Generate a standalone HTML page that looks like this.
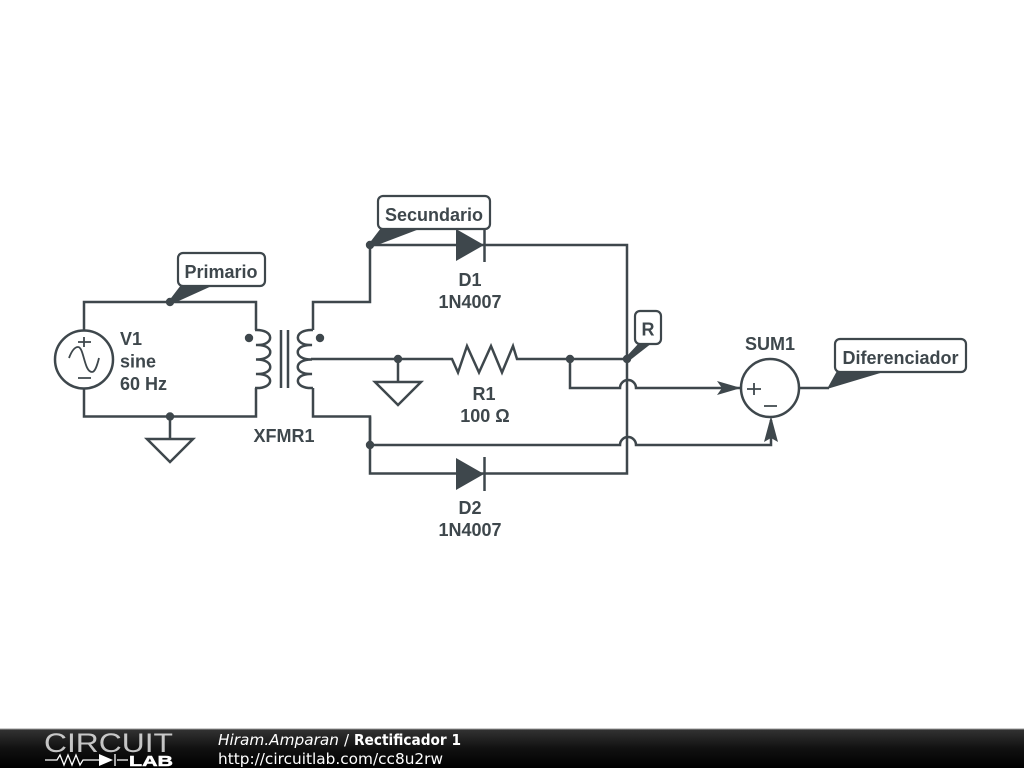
<!DOCTYPE html>
<html>
<head>
<meta charset="utf-8">
<style>
html,body{margin:0;padding:0;background:#fff;width:1024px;height:768px;overflow:hidden}
svg{display:block}
.w{fill:none;stroke:#3e474c;stroke-width:2.5;stroke-linejoin:miter}
.h{fill:none;stroke:#3e474c;stroke-width:1.8}
.n{fill:#3e474c;stroke:none}
.t{font-family:"Liberation Sans",sans-serif;font-weight:bold;font-size:18px;fill:#3e474c;text-anchor:middle}
.c{fill:#fff;stroke:#3e474c;stroke-width:2.2}
.f{font-family:"DejaVu Sans",sans-serif;font-size:15px;fill:#fff}
</style>
</head>
<body>
<svg width="1024" height="768" viewBox="0 0 1024 768" xmlns="http://www.w3.org/2000/svg">
<defs>
<linearGradient id="g" x1="0" y1="0" x2="0" y2="1">
<stop offset="0" stop-color="#333"/><stop offset="0.5" stop-color="#111"/><stop offset="1" stop-color="#000"/>
</linearGradient>
</defs>
<rect width="1024" height="768" fill="#fff"/>

<!-- primary loop -->
<path class="w" d="M84 331V302H256V330"/>
<path class="w" d="M84 388V416.5H256V388"/>
<circle class="w" cx="84" cy="359.5" r="29"/>
<path class="h" d="M69 358C72 350 75 347 78 347C84 347 84 372 92 372C95 372 97 366 99 358"/>
<path class="h" d="M84 337V347M78 342H91M78 378H91"/>

<!-- transformer -->
<path class="w" d="M255 330C275 329 275 346 256 345C275 344 275 360 256 359.5C275 359 275 375 256 374C275 373 275 389 255 388"/>
<path class="w" d="M313 330C293 329 293 346 312 345C293 344 293 360 312 359.5C293 359 293 375 312 374C293 373 293 389 313 388"/>
<path class="w" d="M281 330V388M288 330V388"/>
<circle class="n" cx="249" cy="338" r="4.200"/>
<circle class="n" cx="320" cy="338" r="4.200"/>

<!-- secondary -->
<path class="w" d="M313 330V302H370V245H627V473.5H370V416.5H313V388"/>
<path class="w" d="M370 416.5V445H620A8 8 0 0 1 636 445H771V420"/>
<path class="w" d="M311 359H452L458 372.5L467 346L479 372.5L491 346L502 372.5L513 346L517 359H627"/>
<path class="w" d="M570 359V388H620A8 8 0 0 1 636 388H741"/>
<path class="w" d="M800 388H829"/>

<!-- diodes -->
<path class="n" d="M456 229V261L484 245Z"/>
<path class="w" d="M484.5 229V262"/>
<path class="n" d="M456 458V490L484 474Z"/>
<path class="w" d="M484.5 457V491"/>

<!-- grounds -->
<path class="w" d="M170 416.5V439M147 439H193L170 462Z"/>
<path class="w" d="M398 359V382M375 382H421L398 405Z"/>

<!-- nodes -->
<circle class="n" cx="170" cy="302" r="4.200"/>
<circle class="n" cx="170" cy="416.5" r="4.200"/>
<circle class="n" cx="370" cy="245" r="4.200"/>
<circle class="n" cx="370" cy="445" r="4.200"/>
<circle class="n" cx="398" cy="359" r="4.200"/>
<circle class="n" cx="570" cy="359" r="4.200"/>
<circle class="n" cx="627" cy="359" r="4.200"/>

<!-- sum -->
<circle class="w" cx="770" cy="388" r="29"/>
<path class="h" d="M747 389H761M754 383V395M764 406H777"/>
<path class="n" d="M717 381L741 388L717 395L722 388Z"/>
<path class="n" d="M771 416L764 442L771 438L778 442Z"/>

<!-- callouts -->
<path class="n" d="M168 302L181 285H214L172 304Z"/>
<rect class="c" x="178" y="253" width="87" height="33" rx="5"/>
<text class="t" x="221" y="278">Primario</text>

<path class="n" d="M368 245L381 228H422L372 247Z"/>
<rect class="c" x="378" y="196" width="112" height="33" rx="5"/>
<text class="t" x="434" y="221">Secundario</text>

<path class="n" d="M625 358L639 343H652L629 361Z"/>
<rect class="c" x="635" y="311" width="26" height="33" rx="5"/>
<text class="t" x="648" y="335.500">R</text>

<path class="n" d="M827 389L837 371H887Z"/>
<rect class="c" x="835" y="339" width="131" height="33" rx="5"/>
<text class="t" x="900.500" y="364">Diferenciador</text>

<!-- labels -->
<text class="t" style="text-anchor:start" x="120" y="345">V1</text>
<text class="t" style="text-anchor:start" x="120" y="367.500">sine</text>
<text class="t" style="text-anchor:start" x="120" y="390">60 Hz</text>
<text class="t" x="284" y="442">XFMR1</text>
<text class="t" x="470" y="286">D1</text>
<text class="t" x="470" y="308">1N4007</text>
<text class="t" x="484" y="400">R1</text>
<text class="t" x="485" y="422">100 Ω</text>
<text class="t" x="470" y="514">D2</text>
<text class="t" x="470" y="536">1N4007</text>
<text class="t" x="770" y="350">SUM1</text>

<!-- footer -->
<rect x="0" y="729" width="1024" height="39" fill="url(#g)"/>
<rect x="0" y="728.500" width="1024" height="1" fill="#999"/>
<text x="44" y="752" font-family="Liberation Sans,sans-serif" font-size="27" textLength="129" lengthAdjust="spacingAndGlyphs" fill="#fff" fill-opacity="0.75">CIRCUIT</text>
<path d="M45 760H57L60 755L64 765L68 755L72 765L76 755L80 765L83 760H99M117 760H128M115 754V766" fill="none" stroke="#fff" stroke-width="1.3"/>
<path d="M99 754V766L113 760Z" fill="#fff"/>
<text x="129" y="766" font-family="Liberation Sans,sans-serif" font-weight="bold" font-size="15" textLength="44" lengthAdjust="spacingAndGlyphs" fill="#fff" stroke="#fff" stroke-width="0.5">LAB</text>
<text class="f" x="218" y="745" font-style="italic" textLength="121" lengthAdjust="spacingAndGlyphs">Hiram.Amparan</text>
<text class="f" x="344" y="745">/</text>
<text class="f" x="354" y="745" font-weight="bold" textLength="107" lengthAdjust="spacingAndGlyphs">Rectificador 1</text>
<text class="f" x="218" y="764" textLength="225" lengthAdjust="spacingAndGlyphs">http://circuitlab.com/cc8u2rw</text>
</svg>
</body>
</html>
